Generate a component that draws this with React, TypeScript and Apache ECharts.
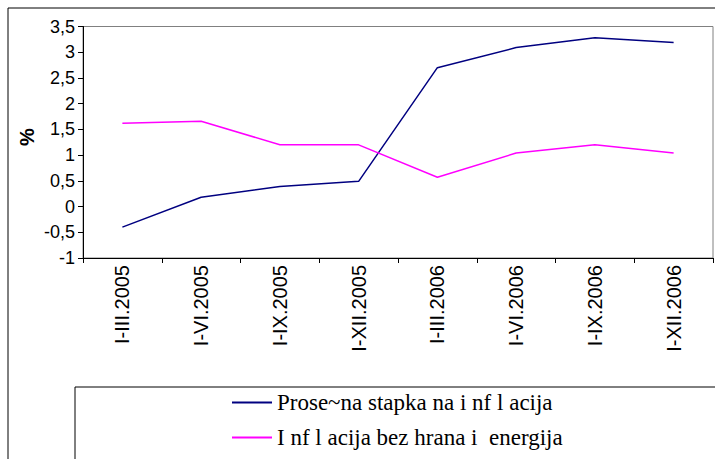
import React, { useEffect, useRef } from "react";
import * as echarts from "echarts";

const categories = ["I-III.2005", "I-VI.2005", "I-IX.2005", "I-XII.2005", "I-III.2006", "I-VI.2006", "I-IX.2006", "I-XII.2006"];
const seriesNames = ["Prose~na stapka na i nf l acija", "I nf l acija bez hrana i  energija"];
const headlineValues = [-0.4, 0.18, 0.39, 0.49, 2.7, 3.09, 3.28, 3.19];
const coreValues = [1.62, 1.66, 1.2, 1.2, 0.57, 1.04, 1.2, 1.04];
const seriesColors = ["#000080", "#ff00ff"];

export default function App() {
  const ref = useRef<HTMLDivElement>(null);
  useEffect(() => {
    if (!ref.current) return;
    const chart = echarts.init(ref.current, undefined, { renderer: "svg" });
    const legendBase = {
      orient: "horizontal",
      left: 232,
      padding: 0,
      itemWidth: 40,
      itemHeight: 2,
      icon: "rect",
      itemGap: 10,
      textStyle: { fontFamily: "'Liberation Serif', serif", fontSize: 23, color: "#000" },
    };
    chart.setOption({
      animation: false,
      backgroundColor: "#ffffff",
      graphic: [
        { type: "rect", shape: { x: 8, y: 8, width: 720, height: 470 }, style: { fill: "none", stroke: "#000000", lineWidth: 1 }, silent: true },
        { type: "rect", shape: { x: 75, y: 387, width: 660, height: 90 }, style: { fill: "none", stroke: "#000000", lineWidth: 1 }, silent: true },
        {
          type: "text",
          x: 27,
          y: 137,
          rotation: Math.PI / 2,
          style: { text: "%", font: "bold 20px 'Liberation Sans', Arial", fill: "#000", align: "center", verticalAlign: "middle" },
        },
      ],
      grid: {
        left: 83,
        top: 26.5,
        right: 2,
        bottom: 201,
        show: true,
        borderColor: "#808080",
        borderWidth: 1,
        backgroundColor: "#ffffff",
      },
      legend: [
        { ...legendBase, top: 391, data: [seriesNames[0]] },
        { ...legendBase, top: 426, data: [seriesNames[1]] },
      ],
      xAxis: {
        type: "category",
        data: categories,
        boundaryGap: true,
        axisLine: { onZero: false, lineStyle: { color: "#000", width: 1 } },
        axisTick: { show: true, length: 5, lineStyle: { color: "#000" } },
        axisLabel: { rotate: 90, fontFamily: "'Liberation Sans', Arial", fontSize: 20, color: "#000", margin: 7 },
        splitLine: { show: false },
      },
      yAxis: {
        type: "value",
        min: -1,
        max: 3.5,
        interval: 0.5,
        axisLine: { show: true, lineStyle: { color: "#000", width: 1 } },
        axisTick: { show: true, length: 5, lineStyle: { color: "#000" } },
        axisLabel: {
          fontFamily: "'Liberation Sans', Arial",
          fontSize: 18,
          color: "#000",
          margin: 8,
          formatter: (v: number) => String(v).replace(".", ","),
        },
        splitLine: { show: false },
      },
      series: [
        { name: seriesNames[0], type: "line", data: headlineValues, symbol: "none", lineStyle: { color: seriesColors[0], width: 1.5 }, itemStyle: { color: seriesColors[0] } },
        { name: seriesNames[1], type: "line", data: coreValues, symbol: "none", lineStyle: { color: seriesColors[1], width: 1.5 }, itemStyle: { color: seriesColors[1] } },
      ],
    });
    return () => chart.dispose();
  }, []);
  return <div ref={ref} style={{ position: "fixed", left: 0, top: 0, width: 715, height: 459 }} />;
}
